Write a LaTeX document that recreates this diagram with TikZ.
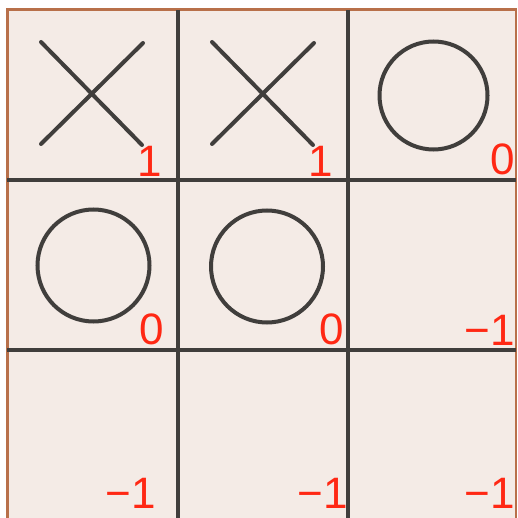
\documentclass[tikz,border=0pt]{standalone}
\usepackage{fontspec}
\setmainfont{Liberation Sans}
\definecolor{paper}{RGB}{244,235,230}
\definecolor{frame}{RGB}{184,112,74}
\definecolor{ink}{RGB}{64,62,60}
\definecolor{mark}{RGB}{255,40,20}
\begin{document}
\begin{tikzpicture}[x=1pt,y=-1pt,
  gridline/.style={ink,line width=3.5pt},
  piece/.style={ink,line width=4pt,line cap=round},
  score/.style={text=mark,font=\fontsize{44}{44}\selectfont,inner sep=0pt,anchor=south east}]
\useasboundingbox (0,0) rectangle (517,518);
\fill[white] (0,0) rectangle (517,518);
\fill[paper] (7,10) rectangle (516,518);
% frame
\draw[frame,line width=3pt] (7.5,518) -- (7.5,10) -- (517,10);
\draw[frame,line width=1.2pt] (516,10) -- (516,518);
% grid
\draw[gridline] (178,10) -- (178,518);
\draw[gridline] (348,10) -- (348,518);
\draw[gridline] (7,180) -- (516,180);
\draw[gridline] (7,350) -- (516,350);
% X pieces
\draw[piece] (41,42) -- (142,145);
\draw[piece] (143,43) -- (41,144);
\draw[piece] (212,42) -- (313,145);
\draw[piece] (314,43) -- (212,144);
% O pieces
\draw[piece] (433.5,95.5) circle (54);
\draw[piece] (93.5,265.5) circle (56);
\draw[piece] (267,266.5) circle (56);
% scores
\node[score] (s11) at (162,177) {1};
\node[score] (s12) at (333,177) {1};
\node[score] (s13) at (515,175) {0};
\node[score] (s21) at (164,345) {0};
\node[score] (s22) at (344,345) {0};
\node[score] (s23) at (515,346) {−1};
\node[score] (s31) at (156,509) {−1};
\node[score] (s32) at (348,509) {−1};
\node[score] (s33) at (515,509) {−1};
\end{tikzpicture}
\end{document}
